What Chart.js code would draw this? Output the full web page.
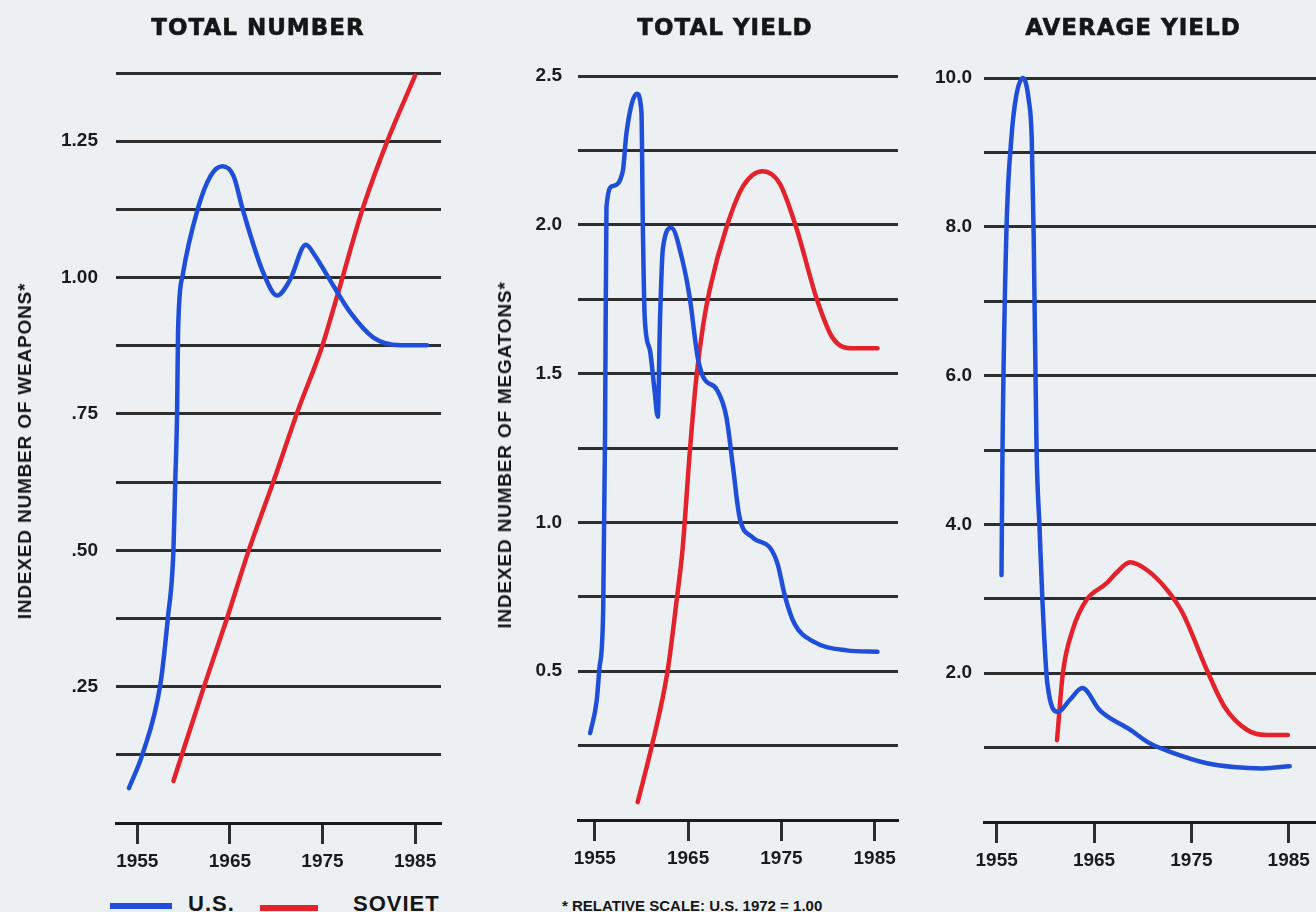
<!DOCTYPE html>
<html>
<head>
<meta charset="utf-8">
<script src="https://cdn.jsdelivr.net/npm/chart.js@4.4.1/dist/chart.umd.min.js"></script>
<style>
  body { margin: 0; width: 1316px; height: 912px; overflow: hidden; position: relative;
         background: #edf0f3; color: #161616; font-family: "Liberation Sans", Arial, sans-serif; }
  canvas { position: absolute; top: 0; }
  .title { position: absolute; top: 16px; transform: translateX(-50%); white-space: nowrap;
           font: 900 23px/22px "DejaVu Sans", sans-serif; letter-spacing: 1px; -webkit-text-stroke: 0.6px #161616; }
  .ytitle { position: absolute; transform: translate(-50%, -50%) rotate(-90deg); white-space: nowrap;
            font-weight: bold; font-size: 19px; letter-spacing: 0.8px; }
  .key { position: absolute; height: 6px; }
  .keytext { position: absolute; top: 891px; font-weight: bold; font-size: 22px; letter-spacing: 1px; }
  .note { position: absolute; left: 562px; top: 897px; font-weight: bold; font-size: 15px; white-space: nowrap; }
</style>
</head>
<body>
<canvas id="chart-number" width="460" height="880" style="left:0"></canvas>
<canvas id="chart-total-yield" width="460" height="880" style="left:460px"></canvas>
<canvas id="chart-avg-yield" width="396" height="880" style="left:920px"></canvas>

<div class="title" style="left:258px">TOTAL NUMBER</div>
<div class="title" style="left:725px">TOTAL YIELD</div>
<div class="title" style="left:1133px">AVERAGE YIELD</div>

<div class="ytitle" style="left:25px; top:451px">INDEXED NUMBER OF WEAPONS*</div>
<div class="ytitle" style="left:505px; top:455px">INDEXED NUMBER OF MEGATONS*</div>

<div class="key" style="left:110px; top:903px; width:62px; background:#1f4fd8"></div>
<div class="keytext" style="left:188px">U.S.</div>
<div class="key" style="left:260px; top:905px; width:58px; background:#e3222c"></div>
<div class="keytext" style="left:353px">SOVIET</div>
<div class="note">* RELATIVE SCALE: U.S. 1972 = 1.00</div>

<script>
// ── Data ──
const yearTicks = [1955, 1965, 1975, 1985];

// Total number of weapons (index)
const numberUsYears   = [1954.1, 1955.6, 1957.5, 1958.3, 1958.9, 1959.1, 1959.3, 1959.4, 1959.9, 1961.5, 1962.9, 1964.2, 1965.4, 1966.4, 1968.6, 1970.1, 1971.5, 1973.2, 1974.2, 1975.5, 1978.0, 1980.5, 1983.4, 1986.3];
const numberUsValues  = [0.064, 0.128, 0.255, 0.376, 0.498, 0.626, 0.754, 0.90, 1.004, 1.124, 1.186, 1.204, 1.186, 1.124, 1.009, 0.967, 0.996, 1.06, 1.04, 1.004, 0.936, 0.89, 0.876, 0.876];
const numberSuYears   = [1958.9, 1962.3, 1964.7, 1967.0, 1969.7, 1972.3, 1975.0, 1976.6, 1979.3, 1982.0, 1985.0];
const numberSuValues  = [0.077, 0.255, 0.376, 0.498, 0.626, 0.754, 0.876, 0.967, 1.124, 1.25, 1.37];
const numberTickValues = [0.25, 0.5, 0.75, 1.0, 1.25];
const numberTickLabels = [".25", ".50", ".75", "1.00", "1.25"];

// Total yield in megatons (index)
const yieldUsYears   = [1954.5, 1955.2, 1955.5, 1955.9, 1956.1, 1956.25, 1956.9, 1958.0, 1958.4, 1959.5, 1960.0, 1960.15, 1960.35, 1960.9, 1961.4, 1961.75, 1962.0, 1962.3, 1963.2, 1964.4, 1965.2, 1966.0, 1966.6, 1968.1, 1969.1, 1969.8, 1970.5, 1971.9, 1973.8, 1974.6, 1975.4, 1976.4, 1978.4, 1982.0, 1985.3];
const yieldUsValues  = [0.292, 0.40, 0.51, 0.705, 1.3, 2.06, 2.13, 2.18, 2.31, 2.44, 2.38, 2.0, 1.69, 1.58, 1.445, 1.355, 1.69, 1.92, 1.99, 1.88, 1.75, 1.56, 1.49, 1.445, 1.355, 1.19, 1.02, 0.95, 0.914, 0.86, 0.75, 0.66, 0.60, 0.57, 0.565];
const yieldSuYears   = [1959.6, 1961.2, 1962.8, 1963.8, 1964.4, 1965.2, 1965.9, 1966.6, 1967.3, 1969.1, 1970.9, 1973.0, 1974.8, 1976.6, 1978.8, 1980.5, 1982.7, 1985.3];
const yieldSuValues  = [0.06, 0.26, 0.50, 0.745, 0.907, 1.243, 1.49, 1.66, 1.78, 1.99, 2.13, 2.18, 2.14, 1.99, 1.75, 1.62, 1.585, 1.585];
const yieldTickValues = [0.5, 1.0, 1.5, 2.0, 2.5];
const yieldTickLabels = ["0.5", "1.0", "1.5", "2.0", "2.5"];

// Average yield per weapon
const avgUsYears   = [1955.5, 1955.6, 1956.0, 1956.5, 1957.0, 1957.7, 1958.3, 1958.6, 1958.8, 1959.1, 1959.4, 1959.7, 1960.2, 1961.3, 1962.5, 1963.8, 1965.6, 1968.7, 1970.7, 1973.1, 1976.6, 1979.3, 1982.3, 1985.1];
const avgUsValues  = [3.32, 5.0, 7.92, 9.17, 9.75, 10.0, 9.7, 9.2, 7.9, 5.0, 3.97, 2.98, 1.87, 1.48, 1.64, 1.80, 1.50, 1.24, 1.06, 0.93, 0.79, 0.74, 0.72, 0.75];
const avgSuYears   = [1961.2, 1961.8, 1962.8, 1964.2, 1966.3, 1967.3, 1968.7, 1970.4, 1972.5, 1974.1, 1976.6, 1978.4, 1980.7, 1982.7, 1984.9];
const avgSuValues  = [1.10, 2.0, 2.58, 2.98, 3.21, 3.35, 3.49, 3.39, 3.12, 2.81, 2.04, 1.55, 1.24, 1.17, 1.17];
const avgTickValues = [2, 4, 6, 8, 10];
const avgTickLabels = ["2.0", "4.0", "6.0", "8.0", "10.0"];

// ── Styles ──
const BLUE = "#1f4fd8";
const RED = "#e3222c";
const INK = "#1b1b1b";
const GRID = "#2e2e2e";
const tickFont = { family: "'Liberation Sans', Arial, sans-serif", size: 19, weight: "bold" };

const pts = (xs, ys) => xs.map((x, i) => ({ x, y: ys[i] }));

function panel(id, o) {
  const canvas = document.getElementById(id);
  return new Chart(canvas, {
    type: "line",
    data: {
      datasets: [
        { label: "U.S.", data: pts(o.usYears, o.usValues), borderColor: BLUE, clip: false },
        { label: "SOVIET", data: pts(o.suYears, o.suValues), borderColor: RED, clip: false },
      ],
    },
    options: {
      responsive: false,
      animation: false,
      layout: { padding: { left: 0, right: o.padRight, top: o.top, bottom: 0 } },
      elements: {
        point: { radius: 0 },
        line: { borderWidth: 4.5, cubicInterpolationMode: "monotone", borderCapStyle: "round", fill: false },
      },
      plugins: { legend: { display: false }, tooltip: { enabled: false } },
      scales: {
        x: {
          type: "linear",
          min: o.xMin,
          max: o.xMax,
          afterBuildTicks: (s) => { s.ticks = yearTicks.map((v) => ({ value: v })); },
          afterFit: (s) => { s.height = canvas.height - o.bottom; },
          grid: { drawOnChartArea: false, tickLength: 21, tickWidth: 3, tickColor: GRID },
          border: { color: INK, width: 3 },
          ticks: { color: INK, font: tickFont, padding: 6, maxRotation: 0, callback: (v) => String(v) },
        },
        y: {
          min: 0,
          max: o.yMax,
          afterFit: (s) => { s.width = o.left; },
          grid: { color: GRID, lineWidth: 3, drawTicks: false },
          border: { display: false },
          ticks: {
            stepSize: o.step,
            maxTicksLimit: 30,
            autoSkip: false,
            color: INK,
            font: tickFont,
            padding: o.labelPad,
            callback: (v) => {
              const i = o.tickValues.findIndex((t) => Math.abs(t - v) < 1e-9);
              return i >= 0 ? o.tickLabels[i] : "";
            },
          },
        },
      },
    },
  });
}

// ── Total Number ──
panel("chart-number", {
  usYears: numberUsYears, usValues: numberUsValues,
  suYears: numberSuYears, suValues: numberSuValues,
  tickValues: numberTickValues, tickLabels: numberTickLabels,
  xMin: 1952.7, xMax: 1987.8, yMax: 1.375, step: 0.125,
  left: 116, padRight: 19, top: 73, bottom: 823, labelPad: 18,
});

// ── Total Yield ──
panel("chart-total-yield", {
  usYears: yieldUsYears, usValues: yieldUsValues,
  suYears: yieldSuYears, suValues: yieldSuValues,
  tickValues: yieldTickValues, tickLabels: yieldTickLabels,
  xMin: 1953.2, xMax: 1987.5, yMax: 2.5, step: 0.25,
  left: 118, padRight: 22, top: 76, bottom: 820, labelPad: 16,
});

// ── Average Yield ──
panel("chart-avg-yield", {
  usYears: avgUsYears, usValues: avgUsValues,
  suYears: avgSuYears, suValues: avgSuValues,
  tickValues: avgTickValues, tickLabels: avgTickLabels,
  xMin: 1953.7, xMax: 1987.8, yMax: 10, step: 1,
  left: 64, padRight: 0, top: 78, bottom: 822, labelPad: 12,
});
</script>
</body>
</html>
